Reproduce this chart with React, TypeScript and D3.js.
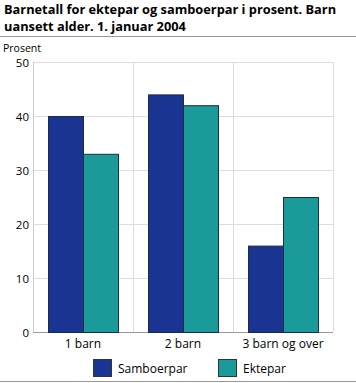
import React from "react";
import * as d3 from "d3";

const categories = ["1 barn", "2 barn", "3 barn og over"];
const seriesNames = ["Samboerpar", "Ektepar"];
const samboerpar = [40, 44, 16];
const ektepar = [33, 42, 25];
const yTicks = [0, 10, 20, 30, 40, 50];
const colors = ["#1a3591", "#1a9a98"];

export default function App() {
  const W = 356, H = 383;
  const left = 33, right = 333, top = 62, bottom = 332;
  const x = d3.scaleBand().domain(categories).range([left, right]).paddingInner(0).paddingOuter(0);
  const y = d3.scaleLinear().domain([0, 50]).range([bottom, top]);
  const inner = d3.scaleBand().domain(seriesNames).range([15, 85]);
  const font = "'Open Sans', sans-serif";
  const series = [samboerpar, ektepar];
  return (
    <svg width={W} height={H} style={{ position: "absolute", left: 0, top: 0 }} fontFamily={font}>
      <text x={4} y={14} fontSize={12.8} fontWeight="bold" fill="#000">Barnetall for ektepar og samboerpar i prosent. Barn</text>
      <text x={4} y={31} fontSize={12.8} fontWeight="bold" fill="#000">uansett alder. 1. januar 2004</text>
      <line x1={0} x2={W} y1={36.5} y2={36.5} stroke="#999" />
      <text x={3} y={51.5} fontSize={10.5} fill="#000">Prosent</text>
      {yTicks.map(t => (
        <g key={t}>
          <line x1={left} x2={right} y1={Math.round(y(t)) + 0.5} y2={Math.round(y(t)) + 0.5} stroke={t === 0 ? "#999" : "#ddd"} />
          <text x={29} y={y(t) + 4.5} fontSize={11.5} textAnchor="end" fill="#000">{t}</text>
        </g>
      ))}
      {categories.map((c, i) => (
        <line key={c} x1={x(c)! + x.bandwidth() + 0.5} x2={x(c)! + x.bandwidth() + 0.5} y1={top} y2={bottom} stroke="#ddd" />
      ))}
      <line x1={left + 0.5} x2={left + 0.5} y1={top} y2={bottom} stroke="#ccc" />
      {categories.map((c, i) =>
        seriesNames.map((s, j) => (
          <rect key={c + s} x={x(c)! + inner(s)! + 0.5} y={y(series[j][i]) + 0.5}
            width={inner.bandwidth()} height={bottom - y(series[j][i])}
            fill={colors[j]} stroke="#1d2b4a" strokeWidth={1} />
        ))
      )}
      {categories.map(c => (
        <text key={c} x={x(c)! + x.bandwidth() / 2} y={348} fontSize={12} textAnchor="middle" fill="#000">{c}</text>
      ))}
      {seriesNames.map((s, j) => (
        <g key={s} transform={`translate(${[93, 218][j]},359)`}>
          <rect x={0.5} y={0.5} width={18} height={17} fill={colors[j]} stroke="#333" />
          <text x={25} y={14} fontSize={12} fill="#000">{s}</text>
        </g>
      ))}
      <line x1={0} x2={W} y1={381.5} y2={381.5} stroke="#999" />
    </svg>
  );
}
